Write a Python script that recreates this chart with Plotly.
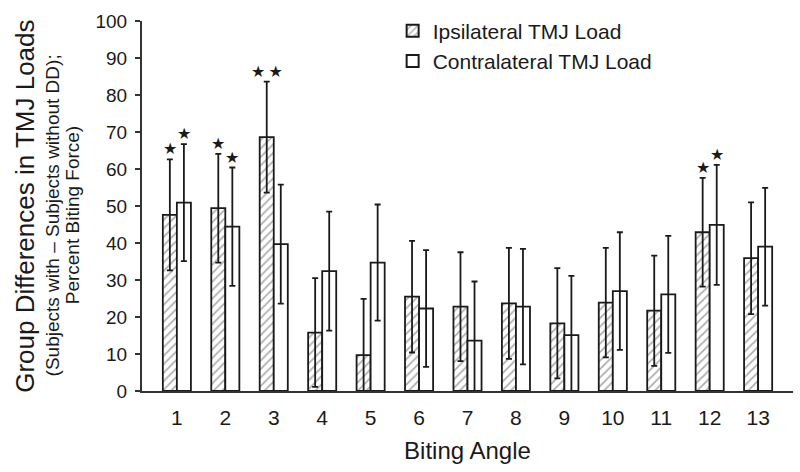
import plotly.graph_objects as go

# ---- data ----
angles = list(range(1, 14))
tick_labels = [str(a) for a in angles]
ipsi = [47.6, 49.4, 68.6, 15.8, 9.7, 25.5, 22.8, 23.7, 18.3, 23.9, 21.7, 42.9, 35.9]
ipsi_err = [15.0, 14.7, 15.0, 14.7, 15.2, 15.1, 14.7, 15.0, 14.9, 14.8, 14.9, 14.7, 15.1]
contra = [50.9, 44.4, 39.7, 32.4, 34.7, 22.3, 13.6, 22.8, 15.1, 27.0, 26.1, 44.9, 39.0]
contra_err = [15.8, 16.0, 16.1, 16.1, 15.7, 15.8, 16.0, 15.6, 16.0, 15.9, 15.8, 16.2, 15.9]
ipsi_sig = [1, 1, 2, 0, 0, 0, 0, 0, 0, 0, 0, 1, 0]
contra_sig = [1, 1, 0, 0, 0, 0, 0, 0, 0, 0, 0, 1, 0]
series_names = ["Ipsilateral TMJ Load", "Contralateral TMJ Load"]
y_title = "Group Differences in TMJ Loads"
y_subtitle = ["(Subjects with \u2013 Subjects without DD);", "Percent Biting Force)"]

FONT = "Liberation Sans, Arial, Helvetica, sans-serif"
INK = "#1a1a1a"
BAR_GAP = 0.42
half = (1 - BAR_GAP) / 4  # offset of each bar centre from the category centre

fig = go.Figure()
fig.add_trace(go.Bar(
    x=angles, y=ipsi, name=series_names[0],
    marker=dict(color="white", line=dict(color=INK, width=1.8),
                pattern=dict(shape="/", fgcolor="#5e5e5e", bgcolor="white",
                             size=6, solidity=0.3)),
    error_y=dict(type="data", array=ipsi_err, symmetric=True,
                 color=INK, thickness=1.8, width=3),
))
fig.add_trace(go.Bar(
    x=angles, y=contra, name=series_names[1],
    marker=dict(color="white", line=dict(color=INK, width=1.8)),
    error_y=dict(type="data", array=contra_err, symmetric=True,
                 color=INK, thickness=1.8, width=3),
))

# significance stars, placed on top of the error bars
for a, v, e, s in zip(angles, ipsi, ipsi_err, ipsi_sig):
    if s:
        fig.add_annotation(x=a - half, y=v + e, text="\u2009".join(["★"] * s),
                           showarrow=False, yanchor="bottom", yshift=-1,
                           font=dict(family="DejaVu Sans", size=16, color=INK))
for a, v, e, s in zip(angles, contra, contra_err, contra_sig):
    if s:
        fig.add_annotation(x=a + half, y=v + e, text="\u2009".join(["★"] * s),
                           showarrow=False, yanchor="bottom", yshift=-1,
                           font=dict(family="DejaVu Sans", size=16, color=INK))

# y-axis titles
fig.add_annotation(xref="paper", yref="paper", x=-0.18, y=0.5,
                   text=y_title, textangle=-90,
                   showarrow=False, xanchor="center", yanchor="middle",
                   font=dict(family=FONT, size=26, color=INK))
fig.add_annotation(xref="paper", yref="paper", x=-0.138, y=0.475,
                   text=y_subtitle[0], textangle=-90,
                   showarrow=False, xanchor="center", yanchor="middle",
                   font=dict(family=FONT, size=19, color=INK))
fig.add_annotation(xref="paper", yref="paper", x=-0.1075, y=0.475,
                   text=y_subtitle[1], textangle=-90,
                   showarrow=False, xanchor="center", yanchor="middle",
                   font=dict(family=FONT, size=19, color=INK))

fig.update_layout(
    width=800, height=472,
    margin=dict(l=142, r=7, t=21, b=81, autoexpand=False),
    paper_bgcolor="white", plot_bgcolor="white",
    barmode="group", bargap=BAR_GAP, bargroupgap=0,
    font=dict(family=FONT, color=INK),
    showlegend=True,
    legend=dict(x=0.385, y=1.028, xanchor="left", yanchor="top",
                font=dict(family=FONT, size=21, color=INK),
                bgcolor="rgba(0,0,0,0)", tracegroupgap=0, itemsizing="constant"),
    xaxis=dict(range=[0.28, 13.72], tickmode="array", tickvals=angles,
               ticktext=tick_labels, showline=True, linecolor="#333333",
               linewidth=2, ticks="", showgrid=False, zeroline=False,
               tickfont=dict(family=FONT, size=21, color=INK),
               ticklabelstandoff=7, automargin=False,
               title=dict(text="Biting Angle", font=dict(family=FONT, size=24, color=INK),
                          standoff=14)),
    yaxis=dict(range=[0, 100], tickvals=[0, 10, 20, 30, 40, 50, 60, 70, 80, 90, 100],
               showline=True, linecolor="#333333", linewidth=2,
               ticks="outside", ticklen=5, tickwidth=1.5, tickcolor="#333333",
               showgrid=False, zeroline=False, automargin=False,
               tickfont=dict(family=FONT, size=19, color=INK),
               ticklabelstandoff=4),
)

fig.write_html("out.html",
               config={"displayModeBar": False},
               post_script="document.body.style.margin='0';document.body.style.overflow='hidden';")
